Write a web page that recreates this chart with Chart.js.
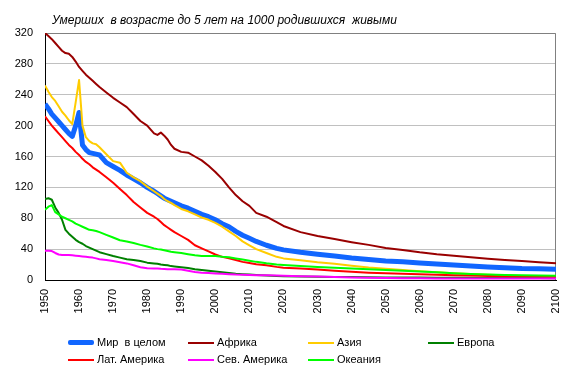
<!DOCTYPE html>
<html><head><meta charset="utf-8">
<script src="https://cdn.jsdelivr.net/npm/chart.js@4/dist/chart.umd.min.js"></script>
<style>
html,body{margin:0;padding:0;background:#fff;}
#wrap{position:relative;width:573px;height:371px;overflow:hidden;font-family:"Liberation Sans",Arial,sans-serif;}
#title{position:absolute;left:52px;top:13px;font-size:12px;font-style:italic;white-space:pre;color:#000;}
.lg{position:absolute;font-size:11px;white-space:pre;color:#000;line-height:13px;}
.lg span.sw{position:absolute;left:-29px;top:50%;width:26px;}
</style></head>
<body>
<div id="wrap">
<canvas id="c" width="573" height="371"></canvas>
<div id="title">Умерших  в возрасте до 5 лет на 1000 родившихся  живыми</div>
<div id="legend"></div>
</div>
<script>
const years = [1950,1951,1952,1953,1954,1955,1956,1957,1958,1959,1960,1961,1962,1963,1964,1965,1966,1968,1970,1972,1974,1976,1978,1980,1982,1983,1984,1985,1986,1987,1988,1990,1992,1994,1996,1998,2000,2002,2004,2006,2008,2010,2012,2015,2018,2020,2025,2030,2035,2040,2045,2050,2055,2060,2065,2070,2075,2080,2085,2090,2095,2100];

const world = [228,222,215,210,205,200,195,190,186,200,217,175,169,165,164,163,162,152,147,142,136,131,126,120,115,112,109,106,104,102,100,96,93,89,85,82,78,73,69,63,58,54,50,45,41,39,36,33.5,31,28.5,26.5,24.7,23.5,22,20.7,19.3,18,17,16,15,14.5,13.9];
const africa = [320,316,312,307,302,297,294,293,289,283,276,271,266,262,258,254,250,243,236,230,224,215,206,200,190,188,191,187,182,175,170,166,165,160,155,148,140,131,120,110,102,96,87,82,75,70,62,57,53,49,45.5,41.5,39,36,33.5,31.5,29.5,27.5,25.8,24.5,23,21.6];
const asia = [252,244,237,232,225,218,213,207,202,230,259,200,185,180,177,176,172,163,154,152,139,133,128,121,115,112,109,105,102,100,97,92,89,85,81,78,74,69,63,57,50,45,40,35,30,28,25.5,23,21,18.5,16.2,14.5,13,11.5,10,8.8,7.8,6.8,6,5.3,4.8,4.3];
const europe = [105,106,104,94,87,78,65,60,56,52,49,47,44,42,40,38,36,33.5,31,29,27,26,24.5,22.5,21.5,21,20,19.5,19,18,17.5,16.5,15.5,14,13,12,11,10,9,8,7.5,7,6.5,5.8,5.2,5,4.6,4.3,4,3.8,3.6,3.4,3.2,3.1,3,2.9,2.8,2.7,2.6,2.5,2.5,2.4];
const latAmerica = [212,206,200,195,190,185,180,175,171,166,162,157,153,150,146,143,140,133,126,118,110,101,94,87,82,79,75,71,68,65,62,57,52,45,41,37,33,30,28,26,23.5,22,20.5,19,17,16,14.8,13.5,12,10.7,9.5,8.7,8,7.3,6.7,6.1,5.7,5.3,5,4.7,4.5,4.3];
const northAmerica = [38,38,37.5,35,33,32.5,32.5,32.4,32,31.5,31,30.5,30,29.5,29,28,27,26,24.5,23,21.5,19,16.5,15.3,15,14.8,14.5,14.3,14,14,14,13.5,12,10.5,9.5,9,8.5,8,7.5,7,6.8,6.5,6.3,6,5.8,5.6,5,4.6,3.9,3.3,2.8,2.5,2.3,2.2,2.1,2,2,1.9,1.9,1.8,1.8,1.8];
const oceania = [91,95,97,88,85,82,80,78,76,73,71,69,67,65,64.5,63.5,62,58.5,55,51.5,50,48,45.5,43.5,41,40,39.5,38.5,37.5,36.5,36,35,33.5,32,31,31,31,30,29.4,28,26.5,25,23.5,21.6,20,19.3,18,17,15.8,14.8,13.8,13,12,11,10,8.8,7.8,7,6.4,6,5.8,5.6];

const seriesNames = ["Мир в целом","Африка","Азия","Европа","Лат. Америка","Сев. Америка","Океания"];
const seriesValues = [world, africa, asia, europe, latAmerica, northAmerica, oceania];
const seriesColors = ["#1166ff","#990000","#ffcc00","#008000","#ff0000","#ff00ff","#00ff00"];
const seriesWidths = [5,2,2,2,2,2,2];

const xTicks = [1950,1960,1970,1980,1990,2000,2010,2020,2030,2040,2050,2060,2070,2080,2090,2100];
const yTicks = [0,40,80,120,160,200,240,280,320];

const datasets = seriesValues.map((vals, i) => ({
  label: seriesNames[i],
  data: years.map((yr, j) => ({x: yr, y: vals[j]})),
  borderColor: seriesColors[i],
  backgroundColor: seriesColors[i],
  borderWidth: seriesWidths[i],
  pointRadius: 0,
  tension: 0,
  fill: false,
  borderJoinStyle: 'round',
  order: seriesValues.length - i
}));

const frame = {
  id: 'frame',
  beforeDatasetsDraw(chart) {
    const {ctx, chartArea: a} = chart;
    ctx.save();
    ctx.strokeStyle = '#808080';
    ctx.lineWidth = 1;
    ctx.beginPath();
    ctx.moveTo(a.left, a.top + 0.5);
    ctx.lineTo(a.right - 0.5, a.top + 0.5);
    ctx.lineTo(a.right - 0.5, a.bottom);
    ctx.stroke();
    ctx.restore();
  }
};

const font = {family: '"Liberation Sans", Arial, sans-serif', size: 11};

new Chart(document.getElementById('c'), {
  type: 'line',
  data: {datasets},
  plugins: [frame],
  options: {
    responsive: false,
    animation: false,
    events: [],
    layout: {padding: {top: 33, right: 17, left: 0, bottom: 0}},
    plugins: {legend: {display: false}, title: {display: false}, tooltip: {enabled: false}},
    scales: {
      x: {
        type: 'linear', min: 1950, max: 2100,
        afterBuildTicks: s => { s.ticks = xTicks.map(v => ({value: v})); },
        afterFit: s => { s.height = 91; s.paddingLeft = 0; s.paddingRight = 0; },
        ticks: {autoSkip: false, minRotation: 90, maxRotation: 90, color: '#000', font, padding: 9, callback: v => String(v)},
        grid: {display: false, drawTicks: false},
        border: {color: '#000', width: 1}
      },
      y: {
        min: 0, max: 320,
        afterBuildTicks: s => { s.ticks = yTicks.map(v => ({value: v})); },
        afterFit: s => { s.width = 45; s.paddingTop = 0; s.paddingBottom = 0; },
        ticks: {color: '#000', font, padding: 12, callback: v => String(v)},
        grid: {color: '#c0c0c0', drawTicks: false},
        border: {color: '#000', width: 1}
      }
    }
  }
});

// HTML legend
const legendPos = [[97,336],[217,336],[337,336],[457,336],[97,353],[217,353],[337,353]];
const lg = document.getElementById('legend');
seriesNames.forEach((n, i) => {
  const d = document.createElement('div');
  d.className = 'lg';
  d.style.left = legendPos[i][0] + 'px';
  d.style.top = legendPos[i][1] + 'px';
  const sw = document.createElement('span');
  sw.className = 'sw';
  sw.style.height = seriesWidths[i] + 'px';
  sw.style.marginTop = (-seriesWidths[i] / 2) + 'px';
  sw.style.background = seriesColors[i];
  if (i === 0) sw.style.borderRadius = '2px';
  d.appendChild(sw);
  d.appendChild(document.createTextNode(n === "Мир в целом" ? "Мир  в целом" : n));
  lg.appendChild(d);
});
</script>
</body></html>
